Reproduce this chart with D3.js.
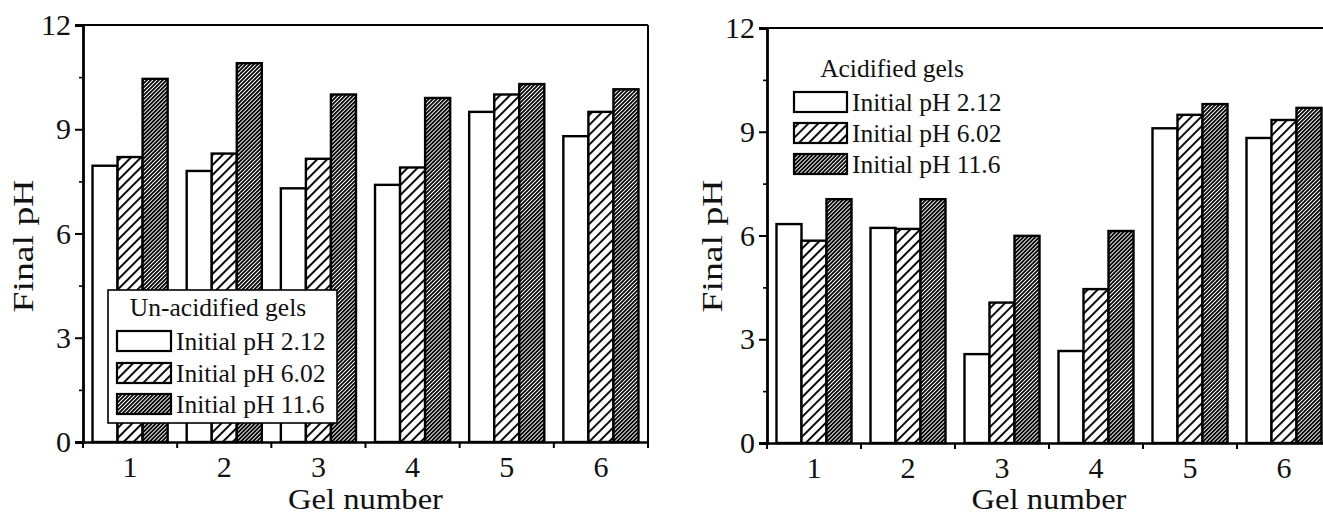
<!DOCTYPE html>
<html><head><meta charset="utf-8">
<script src="https://cdn.jsdelivr.net/npm/d3@7"></script>
<style>
body{margin:0;background:#fff}
svg{display:block}
</style>
</head><body>
<svg id="c" width="1323" height="518"></svg>
<script>
// ---- data ----
const categories = ["1","2","3","4","5","6"];
const seriesLabels = ["Initial pH 2.12","Initial pH 6.02","Initial pH 11.6"];
const yTicks = [0,3,6,9,12];
const yMinorTicks = [1.5,4.5,7.5,10.5];
const unAcid_212 = [7.95,7.8,7.3,7.4,9.5,8.8];
const unAcid_602 = [8.2,8.3,8.15,7.9,10.0,9.5];
const unAcid_116 = [10.45,10.9,10.0,9.9,10.3,10.15];
const acid_212 = [6.33,6.22,2.57,2.66,9.1,8.82];
const acid_602 = [5.85,6.19,4.06,4.45,9.49,9.34];
const acid_116 = [7.05,7.05,5.99,6.13,9.8,9.69];

const FONT = '"Liberation Serif"';
const svg = d3.select("#c");
const defs = svg.append("defs");
function hatch(id, s, w){
  const p = defs.append("pattern").attr("id",id).attr("patternUnits","userSpaceOnUse")
    .attr("width",s).attr("height",s).attr("patternTransform","rotate(45)");
  p.append("rect").attr("width",s).attr("height",s).attr("fill","#fff");
  p.append("rect").attr("x",0).attr("y",0).attr("width",w).attr("height",s).attr("fill","#000");
}
hatch("sparse", 7, 1.9);
hatch("dense", 2.8, 1.8);
const fills = ["#fff","url(#sparse)","url(#dense)"];

function styleText(sel, size){
  return sel.style("font-family", FONT).style("font-size", size + "px")
    .style("font-weight","normal").attr("fill","#111");
}

function panel(cfg){
  const g = svg.append("g");
  const x0 = d3.scaleBand().domain(categories).range([cfg.x0, cfg.x1]).padding(0);
  const x1 = d3.scaleBand().domain([0,1,2]).range([0, x0.bandwidth()]).paddingInner(0).paddingOuter(0.38);
  const y = d3.scaleLinear().domain([0,12]).range([cfg.yb, cfg.yt]);
  const series = cfg.data;

  // bars
  series.forEach((vals, si) => {
    g.append("g").selectAll("rect").data(vals).join("rect")
      .attr("x", (d,i) => x0(categories[i]) + x1(si))
      .attr("y", d => y(d))
      .attr("width", x1.bandwidth())
      .attr("height", d => y(0) - y(d))
      .attr("fill", fills[si]).attr("stroke","#000").attr("stroke-width",2.4);
  });

  // frame top/right
  g.append("line").attr("x1",cfg.x0).attr("x2",cfg.x1).attr("y1",y(12)).attr("y2",y(12))
    .attr("stroke","#000").attr("stroke-width",2);
  g.append("line").attr("x1",cfg.x1).attr("x2",cfg.x1).attr("y1",y(12)).attr("y2",y(0))
    .attr("stroke","#000").attr("stroke-width",2);

  // y axis
  const ya = g.append("g").attr("transform",`translate(${cfg.x0},0)`)
    .call(d3.axisLeft(y).tickValues(yTicks).tickSize(8).tickPadding(4).tickFormat(d3.format("d")));
  ya.select(".domain").attr("stroke-width",2.8);
  ya.selectAll(".tick line").attr("stroke-width",2);
  styleText(ya.selectAll("text"), 30);
  const ym = g.append("g").attr("transform",`translate(${cfg.x0},0)`)
    .call(d3.axisLeft(y).tickValues(yMinorTicks).tickSize(4).tickFormat(""));
  ym.select(".domain").remove();
  ym.selectAll(".tick line").attr("stroke-width",1.6);

  // x axis
  const xa = g.append("g").attr("transform",`translate(0,${cfg.yb})`)
    .call(d3.axisBottom(x0).tickSize(0).tickPadding(14));
  xa.select(".domain").attr("stroke-width",2.6);
  styleText(xa.selectAll("text"), 30);
  const bounds = categories.map(c => x0(c)).concat([x0(categories[categories.length-1]) + x0.bandwidth()]);
  g.append("g").selectAll("line").data(bounds).join("line")
    .attr("x1",d=>d).attr("x2",d=>d).attr("y1",cfg.yb).attr("y2",cfg.yb+6)
    .attr("stroke","#000").attr("stroke-width",2);

  // axis titles
  styleText(g.append("text").attr("x",(cfg.x0+cfg.x1)/2).attr("y",509).attr("text-anchor","middle")
    .attr("textLength",155).attr("lengthAdjust","spacingAndGlyphs").text("Gel number"), 29);
  styleText(g.append("text").attr("transform",`translate(${cfg.ylabX},246) rotate(-90)`).attr("text-anchor","middle")
    .attr("textLength",133).attr("lengthAdjust","spacingAndGlyphs").text("Final pH"), 29);

  // legend
  const L = cfg.legend;
  if (L.box) {
    g.append("rect").attr("x",L.box[0]).attr("y",L.box[1]).attr("width",L.box[2]).attr("height",L.box[3])
      .attr("fill","#fff").attr("stroke","#000").attr("stroke-width",1.6);
  }
  styleText(g.append("text").attr("x",L.titleX).attr("y",L.titleY).attr("text-anchor","middle").text(L.title), 25.5);
  seriesLabels.forEach((lab, si) => {
    const cy = L.rowY[si];
    g.append("rect").attr("x",L.swX).attr("y",cy-10).attr("width",L.swW).attr("height",20)
      .attr("fill",fills[si]).attr("stroke","#000").attr("stroke-width",2.2);
    styleText(g.append("text").attr("x",L.swX+L.swW+5).attr("y",cy).attr("dy","0.35em").text(lab), 25.5);
  });
}

panel({
  x0:83, x1:648, yt:25, yb:442, ylabX:33,
  data:[unAcid_212, unAcid_602, unAcid_116],
  legend:{box:[108,290,229,133], title:"Un-acidified gels", titleX:218, titleY:316,
          swX:117, swW:54, rowY:[341,373,404]}
});
panel({
  x0:767, x1:1331, yt:28, yb:443, ylabX:722,
  data:[acid_212, acid_602, acid_116],
  legend:{box:null, title:"Acidified gels", titleX:892, titleY:77,
          swX:794, swW:53, rowY:[102,133,164]}
});
</script>
</body></html>
